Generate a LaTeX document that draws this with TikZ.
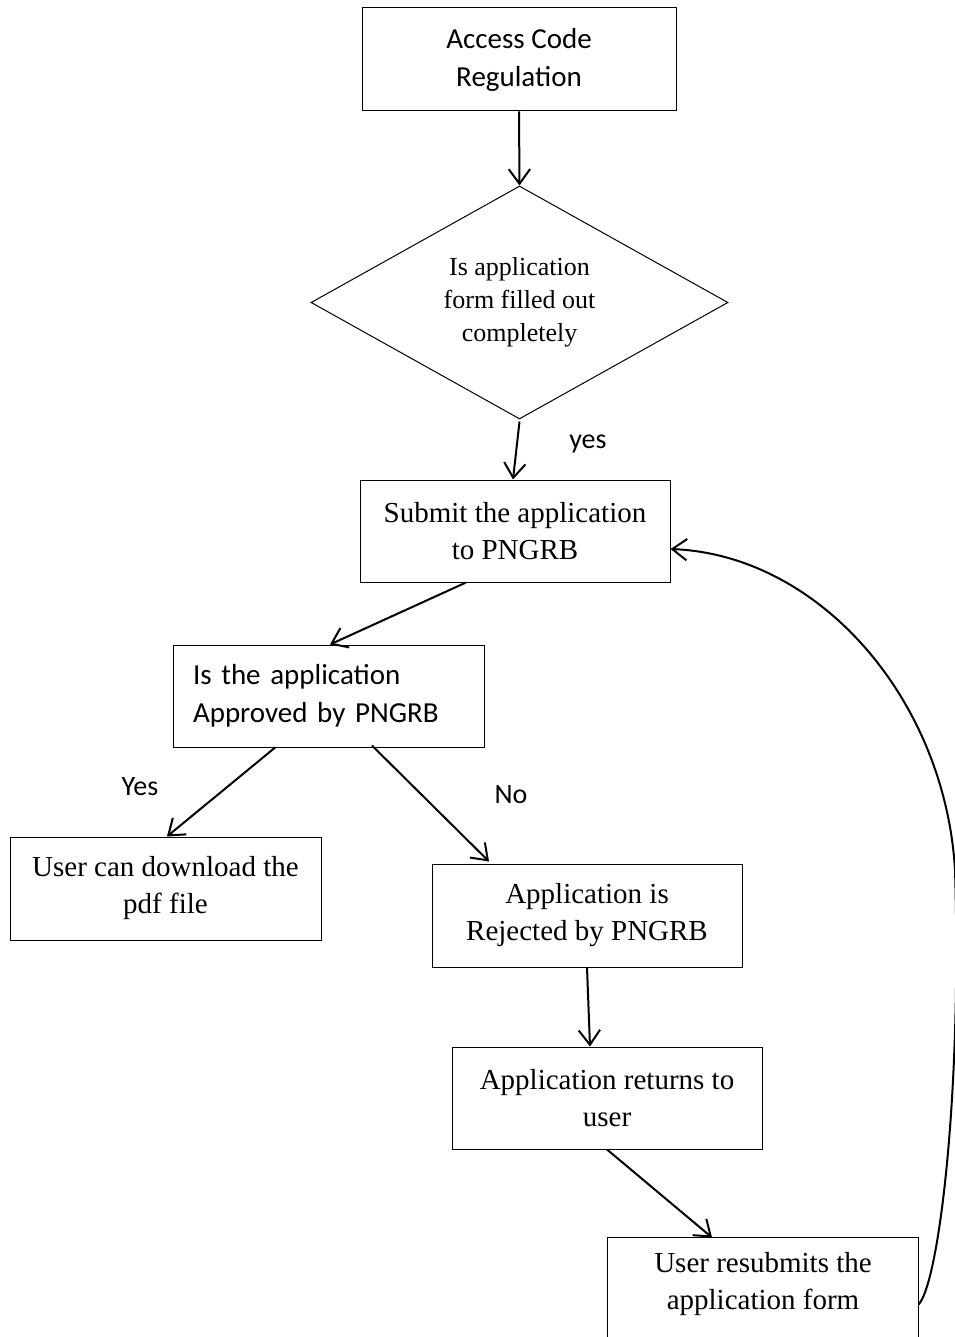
\documentclass[tikz,border=0pt]{standalone}
\usepackage{fontspec}
\setmainfont{Liberation Serif}
\newfontfamily\calfont{Carlito}
\usetikzlibrary{shapes.geometric,arrows.meta}
\begin{document}
\begin{tikzpicture}[x=0.75pt,y=-0.75pt,
  box/.style={draw,line width=0.75pt,inner sep=0pt,align=center},
  tnr/.style={font=\fontsize{21.75pt}{27.75pt}\selectfont},
  cal/.style={font=\calfont\fontsize{21.75pt}{28.5pt}\selectfont},
  lbl/.style={font=\calfont\fontsize{21pt}{25pt}\selectfont,inner sep=0pt},
  arr/.style={line width=1.5pt,-{Straight Barb[length=11pt,width=16pt,line width=1.5pt]}}]
\useasboundingbox (0,0) rectangle (955,1337);
\clip (0,0) rectangle (955,1337);
\node[box,cal,minimum width=314*0.75pt,minimum height=103*0.75pt] (n1) at (519,59.5) {Access Code\\Regulation};
\node[draw,line width=0.75pt,diamond,aspect=1.79,inner sep=0pt,align=center,minimum width=417*0.75pt,minimum height=233*0.75pt,font=\fontsize{19.5pt}{24.75pt}\selectfont] (n2) at (519.5,302.5) {Is application\\form filled out\\completely};
\node[box,tnr,minimum width=310*0.75pt,minimum height=102*0.75pt] (n3) at (515,531) {Submit the application\\to PNGRB};
\node[box,cal,align=left,text width=271*0.75pt,inner xsep=20*0.75pt,minimum height=102*0.75pt] (n4) at (328.5,696) {Is the application\\Approved by PNGRB};
\node[box,tnr,minimum width=311*0.75pt,minimum height=103*0.75pt] (n5) at (165.5,888.5) {User can download the\\pdf file};
\node[box,tnr,minimum width=310*0.75pt,minimum height=103*0.75pt] (n6) at (587,915.5) {Application is\\Rejected by PNGRB};
\node[box,tnr,minimum width=310*0.75pt,minimum height=102*0.75pt] (n7) at (607,1098) {Application returns to\\user};
\node[box,tnr,draw=none,minimum width=310*0.75pt,minimum height=93*0.75pt] (n8) at (763,1284.5) {User resubmits the\\application form};
\draw[line width=0.75pt] ([yshift=-120pt]n8.north west) -- (n8.north west) -- (n8.north east) -- ([yshift=-120pt]n8.north east);
\draw[arr] (n1.south) -- (n2.north);
\draw[arr] ([yshift=-1.5pt]n2.south) -- ([xshift=-1.5pt]n3.north);
\draw[arr] ([xshift=-36.75pt]n3.south) -- ([xshift=1.1pt]n4.north);
\draw[arr] ([xshift=-40pt]n4.south) -- ([xshift=1.1pt]n5.north);
\draw[arr] ([xshift=32.6pt,yshift=1.5pt]n4.south) -- ([xshift=-73.5pt,yshift=1.5pt]n6.north);
\draw[arr] (n6.south) -- ([xshift=-12.75pt]n7.north);
\draw[arr] (n7.south) -- ([xshift=-38.25pt]n8.north);
\draw[arr] ([yshift=-15pt]n8.east) .. controls (938,1285) and (962,1100) .. (955,870) .. controls (945,700) and (820,555) .. ([yshift=-13.5pt]n3.east);
\node[lbl] (l1) at (588,444) {yes};
\node[lbl] (l2) at (140,787) {Yes};
\node[lbl] (l3) at (511,795) {No};
\end{tikzpicture}
\end{document}
